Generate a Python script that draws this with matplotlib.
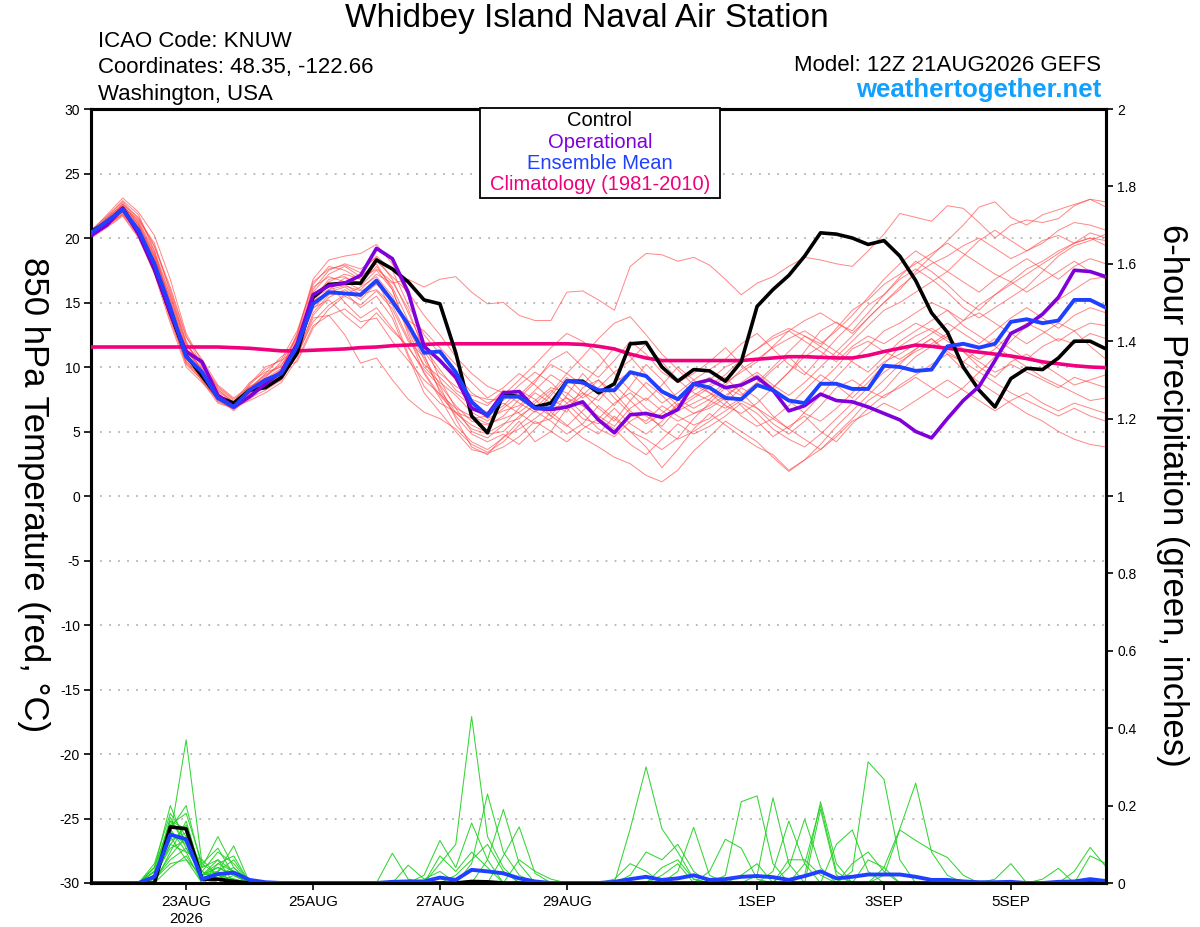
import numpy as np
import matplotlib
matplotlib.use("Agg")
import matplotlib.pyplot as plt
from matplotlib.patches import Rectangle

plt.rcParams['font.family'] = ['Liberation Sans', 'DejaVu Sans']

# ---------------- data ----------------
n_steps = 65                      # 6-hourly from 12Z 21AUG2026 (384 h)
step_days = 0.25

date_tick_days = [1.5, 3.5, 5.5, 7.5, 10.5, 12.5, 14.5]
date_tick_labels = ["23AUG\n2026", "25AUG", "27AUG", "29AUG", "1SEP", "3SEP", "5SEP"]
temp_ticks = [-30, -25, -20, -15, -10, -5, 0, 5, 10, 15, 20, 25, 30]
precip_ticks = [0, 0.2, 0.4, 0.6, 0.8, 1.0, 1.2, 1.4, 1.6, 1.8, 2.0]
precip_tick_labels = ["0", "0.2", "0.4", "0.6", "0.8", "1", "1.2", "1.4", "1.6", "1.8", "2"]

control_t = [20.5, 21.2, 22.3, 20.4, 17.6, 14.2, 10.9, 9.3, 7.7, 7.2, 8.2, 8.4, 9.2,
             11.1, 15.4, 16.4, 16.5, 16.5, 18.3, 17.6, 16.6, 15.2, 14.9, 11.1, 6.2, 4.9,
             7.9, 7.7, 6.9, 7.2, 8.9, 8.9, 8.0, 8.7, 11.8, 11.9, 10.0, 8.9, 9.8,
             9.7, 8.9, 10.4, 14.7, 16.0, 17.1, 18.6, 20.4, 20.3, 20.0, 19.5, 19.8, 18.6,
             16.7, 14.2, 12.7, 10.0, 8.2, 6.9, 9.1, 9.9, 9.8, 10.7, 12.0, 12.0, 11.4]

operational_t = [20.2, 21.0, 22.3, 20.3, 17.6, 14.2, 11.2, 10.4, 7.8, 6.9, 7.7, 8.7, 9.6,
                 11.8, 15.6, 16.3, 16.5, 17.1, 19.2, 18.4, 15.8, 11.6, 10.5, 9.2, 6.8, 6.3,
                 8.0, 8.1, 6.8, 6.7, 6.9, 7.3, 5.9, 4.9, 6.3, 6.4, 6.1, 6.7, 8.7,
                 9.0, 8.4, 8.6, 9.2, 8.2, 6.6, 7.0, 7.9, 7.4, 7.3, 6.9, 6.4, 5.9,
                 5.0, 4.5, 6.0, 7.4, 8.5, 10.5, 12.6, 13.2, 14.1, 15.4, 17.5, 17.4, 17.0]

ens_mean_t = [20.4, 21.3, 22.2, 20.6, 18.0, 14.6, 10.8, 9.6, 7.6, 6.9, 8.2, 9.0, 9.5,
              11.6, 14.9, 15.8, 15.7, 15.6, 16.7, 15.1, 13.3, 11.1, 11.2, 9.6, 7.3, 6.2,
              7.7, 7.7, 6.8, 6.8, 8.9, 8.8, 8.2, 8.2, 9.6, 9.3, 8.1, 7.5, 8.7,
              8.4, 7.6, 7.5, 8.6, 8.2, 7.4, 7.2, 8.7, 8.7, 8.3, 8.3, 10.1, 10.0,
              9.7, 9.8, 11.6, 11.8, 11.5, 11.8, 13.5, 13.7, 13.4, 13.6, 15.2, 15.2, 14.6]

climatology_t = [11.55, 11.55, 11.55, 11.55, 11.55, 11.55, 11.55, 11.55, 11.55, 11.5, 11.45, 11.35, 11.25,
                 11.25, 11.3, 11.35, 11.4, 11.5, 11.55, 11.65, 11.7, 11.75, 11.8, 11.8, 11.8, 11.8,
                 11.8, 11.8, 11.8, 11.8, 11.8, 11.75, 11.6, 11.4, 11.0, 10.7, 10.5, 10.5, 10.5,
                 10.5, 10.5, 10.5, 10.6, 10.7, 10.8, 10.8, 10.75, 10.7, 10.7, 10.9, 11.2, 11.45,
                 11.7, 11.6, 11.45, 11.3, 11.15, 11.0, 10.85, 10.65, 10.4, 10.25, 10.1, 10.0, 9.95]

members_t = [
    [20.3, 21.5, 22.6, 21.0, 18.6, 15.2, 11.5, 9.8, 7.9, 7.0, 8.0, 8.8, 9.6,
     12.0, 16.0, 17.5, 18.0, 17.6, 18.5, 16.8, 14.2, 11.5, 9.8, 8.2, 7.5, 7.0,
     8.2, 7.6, 8.8, 10.5, 11.2, 10.0, 9.2, 10.5, 12.0, 11.0, 9.6, 8.8, 9.5,
     10.4, 11.5, 10.2, 9.0, 8.4, 9.6, 11.2, 12.8, 13.5, 12.6, 13.8, 15.0, 16.2,
     17.2, 18.0, 18.6, 19.4, 20.0, 19.2, 18.4, 19.0, 19.8, 20.2, 19.6, 20.0, 19.8],
    [20.5, 21.8, 23.1, 22.0, 20.2, 16.8, 12.6, 10.4, 8.3, 7.2, 7.6, 8.2, 9.0,
     11.2, 15.2, 16.8, 17.0, 16.3, 17.5, 16.0, 12.5, 9.5, 7.6, 5.5, 4.2, 3.6,
     4.5, 5.8, 4.2, 5.0, 6.8, 5.5, 4.8, 6.2, 5.0, 3.8, 2.2, 3.6, 5.2,
     6.4, 5.5, 4.6, 3.8, 3.2, 2.0, 2.8, 3.6, 4.8, 6.0, 7.4, 8.2, 9.6,
     10.8, 11.6, 12.4, 11.2, 10.0, 9.2, 10.4, 11.0, 10.2, 9.4, 8.6, 9.0, 9.4],
    [20.1, 21.0, 22.0, 20.2, 17.4, 13.8, 10.2, 9.0, 7.4, 6.7, 7.5, 8.6, 9.8,
     12.5, 16.8, 18.3, 18.6, 18.8, 19.5, 18.0, 15.5, 12.0, 9.0, 6.8, 5.0, 4.5,
     5.5, 6.8, 8.0, 7.2, 6.5, 8.4, 9.0, 7.6, 6.4, 5.8, 7.0, 6.2, 5.5,
     6.0, 7.2, 8.4, 7.6, 6.2, 5.2, 6.5, 7.8, 9.2, 10.5, 11.6, 12.8, 13.4,
     14.2, 15.0, 14.4, 13.6, 14.8, 15.6, 16.4, 17.2, 18.0, 18.8, 19.6, 20.4, 20.0],
    [20.6, 21.3, 22.4, 21.4, 19.6, 15.8, 12.0, 9.5, 7.8, 7.1, 8.4, 9.4, 10.2,
     11.5, 14.5, 15.8, 16.2, 15.4, 16.8, 14.2, 11.0, 8.5, 7.2, 6.5, 6.0, 6.2,
     7.0, 8.2, 7.5, 6.2, 7.8, 9.5, 8.2, 7.0, 8.5, 10.2, 9.0, 7.5, 6.8,
     7.5, 8.6, 9.8, 10.6, 11.5, 12.2, 12.8, 12.0, 11.2, 12.4, 13.8, 15.0, 16.0,
     17.4, 18.6, 19.8, 21.0, 22.4, 22.8, 21.6, 21.0, 21.8, 22.2, 22.6, 23.0, 22.8],
    [20.2, 21.1, 21.8, 20.5, 17.9, 14.0, 10.6, 9.4, 7.6, 6.6, 7.9, 8.9, 9.4,
     10.8, 13.8, 14.0, 12.5, 10.3, 10.7, 9.0, 7.5, 6.5, 6.0, 5.2, 4.0, 3.4,
     4.2, 5.5, 6.6, 5.8, 4.8, 5.6, 7.0, 6.0, 5.0, 4.4, 3.6, 4.5, 6.0,
     7.2, 8.4, 7.0, 5.8, 4.6, 5.4, 6.2, 5.0, 4.2, 5.6, 6.8, 7.8, 8.4,
     9.2, 8.4, 7.6, 8.4, 9.6, 10.8, 12.0, 13.2, 14.0, 15.2, 16.0, 16.8, 17.0],
    [20.4, 21.6, 22.9, 21.8, 19.0, 14.8, 11.0, 8.9, 7.2, 6.8, 8.6, 9.8, 10.6,
     12.8, 16.4, 17.8, 17.5, 16.8, 18.2, 17.0, 15.8, 14.0, 12.5, 10.8, 9.5, 8.5,
     8.0, 7.2, 6.5, 7.8, 9.2, 8.0, 7.4, 8.8, 9.6, 8.4, 7.2, 8.0, 9.0,
     9.8, 10.6, 11.8, 12.6, 11.4, 10.2, 9.4, 10.8, 12.2, 13.4, 14.8, 15.6, 16.8,
     17.6, 16.8, 15.8, 14.6, 13.8, 14.6, 15.4, 16.2, 17.4, 18.6, 19.4, 19.8, 20.3],
    [20.0, 20.8, 21.7, 20.0, 17.2, 13.4, 10.0, 8.8, 7.5, 7.3, 8.8, 9.6, 10.0,
     10.4, 13.0, 14.5, 15.5, 14.8, 15.9, 14.5, 12.0, 10.8, 8.6, 7.0, 5.8, 5.5,
     6.2, 7.5, 6.8, 8.0, 9.5, 10.8, 12.2, 13.4, 13.9, 12.5, 11.0, 9.8, 8.6,
     8.0, 7.4, 6.2, 5.4, 6.0, 7.0, 8.2, 9.4, 8.6, 7.6, 8.8, 10.2, 11.6,
     12.4, 13.0, 12.2, 11.4, 10.6, 11.4, 12.6, 13.4, 12.8, 12.0, 12.8, 13.4, 13.2],
    [20.5, 21.4, 22.2, 20.8, 18.2, 14.6, 11.2, 9.9, 8.0, 7.0, 7.8, 8.4, 9.2,
     11.0, 14.0, 15.4, 16.0, 15.2, 16.5, 15.0, 13.5, 11.0, 8.0, 6.2, 4.8, 4.2,
     4.8, 4.0, 5.2, 6.5, 5.5, 4.5, 3.8, 3.0, 2.5, 1.6, 1.1, 2.0, 3.5,
     4.6, 5.8, 5.0, 4.2, 3.0, 1.9, 2.8, 4.0, 5.4, 6.6, 7.8, 9.0, 10.2,
     11.4, 12.2, 11.0, 9.8, 8.8, 8.0, 7.2, 6.4, 5.8, 5.0, 4.4, 4.0, 3.8],
    [20.3, 21.2, 22.5, 21.2, 18.8, 15.5, 11.8, 10.2, 8.4, 7.4, 8.2, 8.8, 9.5,
     12.2, 15.8, 17.2, 17.8, 17.0, 18.0, 16.0, 12.8, 10.0, 8.8, 7.8, 6.5, 5.8,
     6.8, 7.8, 9.0, 10.2, 9.5, 8.6, 10.0, 11.5, 10.8, 9.4, 8.2, 7.0, 7.8,
     8.6, 9.4, 10.6, 11.4, 12.2, 12.8, 13.6, 14.2, 13.4, 12.8, 14.2, 15.6, 17.0,
     18.2, 17.4, 16.4, 15.2, 14.4, 15.6, 16.6, 17.6, 18.2, 19.0, 19.6, 20.0, 19.4],
    [20.6, 21.7, 22.8, 21.5, 19.3, 16.0, 12.3, 10.6, 8.6, 7.6, 8.5, 9.1, 9.9,
     11.8, 15.0, 16.5, 15.0, 13.8, 14.6, 13.0, 11.5, 9.8, 8.5, 6.0, 3.8, 3.2,
     4.6, 5.2, 6.0, 7.0, 7.6, 6.4, 5.2, 4.6, 5.8, 6.5, 5.2, 4.4, 5.0,
     5.8, 6.6, 7.4, 6.8, 5.6, 4.8, 5.8, 7.0, 8.4, 9.0, 8.2, 7.6, 8.6,
     9.4, 10.2, 11.0, 10.4, 9.6, 8.8, 8.0, 7.4, 6.8, 6.2, 6.8, 6.2, 5.8],
    [20.2, 20.9, 21.9, 20.4, 17.6, 13.6, 10.4, 9.2, 7.7, 6.9, 7.4, 8.0, 8.8,
     10.6, 13.2, 14.0, 14.5, 13.5, 13.8, 12.0, 10.5, 9.0, 7.9, 6.8, 6.2, 5.6,
     6.0, 6.5, 7.4, 8.4, 8.0, 7.0, 6.2, 5.4, 6.8, 7.6, 6.6, 5.8, 6.4,
     7.0, 7.8, 8.6, 9.4, 8.4, 7.4, 6.4, 5.8, 6.8, 8.0, 9.2, 10.4, 11.0,
     11.8, 12.6, 13.4, 12.6, 11.8, 12.8, 13.8, 14.6, 13.8, 13.0, 14.0, 14.6, 14.2],
    [20.4, 21.3, 22.3, 20.9, 18.4, 14.9, 11.3, 9.6, 7.7, 7.0, 8.1, 9.2, 10.4,
     12.4, 16.2, 17.0, 16.6, 16.0, 17.2, 16.5, 16.8, 16.2, 16.8, 17.0, 15.8, 14.9,
     15.0, 14.0, 13.6, 13.6, 15.8, 15.9, 15.2, 14.4, 17.8, 18.8, 18.7, 18.2, 18.5,
     17.9, 16.8, 15.6, 16.5, 17.0, 17.8, 18.5, 18.3, 18.0, 17.8, 19.0, 20.3, 21.9,
     21.6, 21.3, 22.5, 22.3, 21.2, 20.0, 21.0, 21.4, 21.2, 21.5, 22.5, 23.0, 22.4],
    [20.1, 21.1, 22.1, 20.6, 18.1, 14.3, 10.8, 9.3, 7.3, 6.8, 8.3, 9.5, 10.8,
     11.6, 15.5, 16.2, 16.4, 15.6, 16.0, 14.8, 12.2, 10.2, 9.2, 8.0, 7.0, 6.5,
     7.2, 6.4, 5.6, 6.0, 7.2, 8.0, 6.8, 5.8, 7.4, 8.8, 7.8, 6.6, 7.2,
     7.8, 8.8, 9.6, 10.4, 11.6, 12.8, 12.0, 11.2, 10.4, 11.6, 12.4, 11.8, 12.6,
     13.4, 12.8, 12.0, 11.2, 10.4, 9.6, 10.2, 9.6, 9.0, 8.4, 9.2, 8.8, 8.4],
    [20.5, 21.5, 22.7, 21.3, 19.0, 15.6, 11.9, 10.0, 8.1, 7.2, 8.0, 9.0, 9.8,
     12.6, 16.6, 17.6, 17.9, 17.3, 18.6, 17.5, 14.8, 12.5, 11.0, 9.5, 8.0, 7.2,
     7.8, 9.0, 10.2, 11.5, 12.6, 12.0, 11.0, 9.5, 8.2, 7.4, 8.6, 10.0, 9.0,
     8.0, 7.0, 6.4, 7.2, 8.4, 9.6, 10.8, 11.6, 13.0, 14.4, 15.2, 16.4, 17.2,
     18.0, 18.8, 19.6, 18.8, 18.0, 17.2, 16.6, 15.8, 16.6, 17.4, 18.2, 17.4, 16.8],
    [20.3, 21.2, 22.3, 20.7, 18.3, 14.4, 10.9, 9.5, 7.6, 6.9, 7.7, 8.6, 9.3,
     11.0, 13.5, 14.8, 15.6, 16.2, 17.0, 15.5, 13.0, 10.6, 8.2, 6.5, 5.2, 4.8,
     5.0, 6.2, 7.0, 6.2, 5.4, 6.6, 7.8, 8.6, 7.4, 6.2, 5.4, 6.8, 7.6,
     8.4, 9.2, 8.0, 6.8, 6.0, 5.2, 4.4, 3.6, 4.6, 5.8, 6.4, 7.2, 6.6,
     7.4, 8.2, 9.0, 8.2, 7.4, 6.6, 7.4, 8.0, 7.2, 6.6, 7.2, 6.8, 6.4],
    [20.4, 21.4, 22.6, 21.6, 19.4, 16.2, 12.4, 10.1, 8.2, 7.3, 8.3, 9.3, 10.1,
     12.3, 15.4, 16.0, 16.9, 16.5, 17.8, 16.2, 13.6, 12.8, 11.5, 10.2, 8.8, 7.6,
     8.4, 9.5, 8.6, 7.5, 6.8, 7.8, 9.0, 8.0, 6.6, 5.6, 6.4, 7.4, 8.2,
     9.0, 10.0, 10.6, 11.4, 12.4, 13.0, 12.4, 11.8, 12.8, 14.0, 15.4, 16.8, 18.0,
     19.0, 18.2, 17.4, 18.6, 19.8, 20.6, 19.8, 19.0, 19.6, 20.6, 21.2, 21.0, 20.6],
    [20.2, 21.0, 22.0, 20.3, 17.7, 14.1, 10.5, 9.1, 7.4, 7.0, 8.7, 10.0, 10.5,
     11.4, 14.8, 16.0, 16.3, 15.9, 16.4, 15.2, 13.0, 11.8, 10.5, 9.0, 7.0, 6.0,
     6.6, 7.0, 8.2, 9.4, 8.6, 7.6, 8.4, 9.6, 10.5, 11.8, 10.4, 9.0, 8.0,
     7.4, 6.8, 7.6, 8.6, 9.8, 10.8, 9.6, 8.8, 10.0, 11.4, 12.0, 11.2, 10.6,
     11.4, 12.2, 11.2, 10.4, 11.4, 12.2, 11.4, 10.6, 11.6, 12.2, 11.8, 12.6, 12.2],
    [20.6, 21.6, 22.5, 21.1, 18.7, 15.0, 11.4, 9.7, 7.8, 7.1, 7.9, 8.5, 9.0,
     10.9, 14.2, 15.6, 15.8, 14.6, 15.5, 13.8, 10.8, 8.0, 6.5, 5.0, 3.6, 3.3,
     3.8, 4.6, 5.8, 5.0, 4.2, 5.2, 6.0, 5.2, 4.0, 3.2, 4.4, 5.6, 4.8,
     5.4, 6.2, 7.2, 6.4, 5.2, 4.4, 3.8, 4.8, 6.0, 7.2, 8.4, 9.6, 10.4,
     11.2, 11.8, 12.6, 13.6, 14.2, 13.4, 12.6, 11.8, 12.6, 13.4, 12.8, 11.6, 10.6],
    [20.3, 21.3, 22.4, 21.0, 18.5, 15.3, 11.7, 10.3, 8.5, 7.5, 8.4, 9.0, 9.7,
     12.0, 15.6, 16.6, 17.2, 16.8, 17.6, 16.6, 14.5, 11.2, 9.5, 8.5, 7.8, 7.5,
     7.4, 8.6, 9.6, 8.8, 7.6, 7.0, 6.0, 7.2, 8.0, 6.8, 6.0, 7.0, 8.4,
     9.2, 8.4, 7.8, 8.8, 10.0, 11.2, 12.4, 11.6, 10.8, 12.0, 13.2, 14.4, 15.0,
     15.8, 16.6, 17.4, 16.6, 15.8, 16.8, 17.6, 18.4, 17.6, 16.8, 17.8, 18.4, 18.0],
    [20.0, 20.9, 21.8, 20.1, 17.5, 13.9, 10.3, 9.0, 7.5, 6.8, 7.6, 8.7, 9.6,
     11.3, 14.6, 15.2, 14.0, 13.0, 14.2, 12.8, 11.6, 9.6, 7.8, 6.4, 5.5, 4.9,
     5.6, 6.0, 7.2, 8.2, 7.2, 6.0, 5.6, 6.8, 5.6, 4.8, 5.8, 7.2, 6.4,
     6.8, 7.6, 8.8, 9.6, 8.6, 7.8, 8.8, 10.0, 11.2, 10.4, 9.6, 10.8, 12.0,
     12.8, 13.6, 14.4, 13.2, 12.4, 11.6, 10.8, 10.0, 9.2, 8.6, 8.0, 7.4, 7.6],
]

# 6-hour precipitation (inches): {step index: amount}, zero elsewhere
control_p = {5: 0.145, 6: 0.14, 7: 0.01, 8: 0.01, 9: 0.004, 24: 0.004, 25: 0.003}
ens_mean_p = {4: 0.016, 5: 0.125, 6: 0.113, 7: 0.01, 8: 0.023, 9: 0.027, 10: 0.008, 11: 0.002,
              19: 0.003, 20: 0.004, 21: 0.004, 22: 0.014, 23: 0.008, 24: 0.034, 25: 0.03, 26: 0.025,
              27: 0.012, 28: 0.004, 33: 0.003, 34: 0.01, 35: 0.016, 36: 0.008, 37: 0.012, 38: 0.02,
              39: 0.008, 40: 0.01, 41: 0.016, 42: 0.018, 43: 0.015, 44: 0.008, 45: 0.018, 46: 0.03,
              47: 0.012, 48: 0.016, 49: 0.022, 50: 0.022, 51: 0.022, 52: 0.016, 53: 0.008, 54: 0.008,
              55: 0.004, 56: 0.002, 57: 0.002, 58: 0.003, 61: 0.003, 62: 0.004, 63: 0.01, 64: 0.005}
members_p = [
    {4: 0.03, 5: 0.12, 6: 0.37, 7: 0.05, 8: 0.02, 22: 0.05, 23: 0.1, 24: 0.43, 25: 0.12, 26: 0.04,
     34: 0.14, 35: 0.30, 36: 0.14, 37: 0.08, 38: 0.01},
    {4: 0.04, 5: 0.20, 6: 0.10, 7: 0.02, 8: 0.06, 9: 0.03, 19: 0.077, 20: 0.01,
     37: 0.03, 38: 0.144, 39: 0.02},
    {4: 0.02, 5: 0.14, 6: 0.20, 7: 0.04, 8: 0.12, 9: 0.04, 20: 0.046, 21: 0.01, 22: 0.03,
     39: 0.03, 40: 0.113, 41: 0.09, 42: 0.01},
    {4: 0.05, 5: 0.18, 6: 0.12, 7: 0.01, 8: 0.03, 9: 0.096, 21: 0.02, 22: 0.11, 23: 0.04, 24: 0.155,
     25: 0.06, 40: 0.02, 41: 0.21, 42: 0.225, 43: 0.05},
    {4: 0.01, 5: 0.10, 6: 0.08, 7: 0.06, 8: 0.02, 9: 0.01, 24: 0.05, 25: 0.23, 26: 0.08, 27: 0.02,
     42: 0.02, 43: 0.22, 44: 0.05},
    {4: 0.02, 5: 0.16, 6: 0.14, 7: 0.03, 8: 0.08, 9: 0.05, 25: 0.06, 26: 0.19, 27: 0.05,
     43: 0.03, 44: 0.16, 45: 0.05},
    {5: 0.08, 6: 0.16, 7: 0.02, 8: 0.04, 9: 0.02, 26: 0.07, 27: 0.145, 28: 0.025,
     44: 0.04, 45: 0.165, 46: 0.04},
    {4: 0.03, 5: 0.12, 6: 0.06, 8: 0.05, 9: 0.07, 22: 0.07, 23: 0.03, 24: 0.08, 25: 0.04,
     45: 0.02, 46: 0.21, 47: 0.05},
    {4: 0.02, 5: 0.09, 6: 0.11, 7: 0.03, 8: 0.01, 9: 0.03, 23: 0.02, 24: 0.06, 25: 0.1, 26: 0.03,
     46: 0.19, 47: 0.02},
    {4: 0.04, 5: 0.15, 6: 0.18, 7: 0.05, 8: 0.09, 9: 0.02, 27: 0.06, 28: 0.03, 29: 0.01,
     45: 0.05, 46: 0.2, 47: 0.03},
    {4: 0.01, 5: 0.06, 6: 0.09, 7: 0.02, 9: 0.01, 33: 0.01, 34: 0.05, 35: 0.03,
     47: 0.1, 48: 0.137, 49: 0.03},
    {4: 0.03, 5: 0.13, 6: 0.10, 7: 0.01, 8: 0.03, 9: 0.06, 48: 0.03, 49: 0.313, 50: 0.268, 51: 0.06},
    {4: 0.02, 5: 0.11, 6: 0.13, 7: 0.04, 8: 0.06, 50: 0.04, 51: 0.14, 52: 0.258, 53: 0.08, 54: 0.02},
    {5: 0.04, 6: 0.07, 7: 0.01, 8: 0.02, 9: 0.01, 50: 0.02, 51: 0.137, 52: 0.11, 53: 0.085,
     54: 0.066, 55: 0.02},
    {4: 0.02, 5: 0.17, 6: 0.09, 7: 0.02, 8: 0.04, 9: 0.02, 49: 0.06, 50: 0.04, 57: 0.01, 58: 0.05},
    {4: 0.01, 5: 0.07, 6: 0.12, 7: 0.03, 48: 0.05, 49: 0.08, 50: 0.03, 60: 0.01, 61: 0.038},
    {4: 0.03, 5: 0.14, 6: 0.08, 8: 0.02, 9: 0.04, 44: 0.06, 45: 0.06, 46: 0.02, 62: 0.03, 63: 0.092,
     64: 0.042},
    {4: 0.02, 5: 0.10, 6: 0.15, 7: 0.02, 8: 0.05, 9: 0.03, 36: 0.02, 37: 0.05, 63: 0.07, 64: 0.05},
    {4: 0.04, 5: 0.16, 6: 0.11, 7: 0.01, 9: 0.02, 34: 0.02, 35: 0.08, 36: 0.06, 37: 0.1, 38: 0.03},
    {4: 0.01, 5: 0.05, 6: 0.06, 7: 0.02, 8: 0.03, 36: 0.04, 37: 0.06, 38: 0.01, 41: 0.02, 42: 0.05},
]

# ---------------- figure ----------------
W, H = 1200, 927
fig = plt.figure(figsize=(W / 100, H / 100), dpi=100)
x0, x1, ytop, ybot = 91, 1106, 109, 883
ax = fig.add_axes([x0 / W, 1 - ybot / H, (x1 - x0) / W, (ybot - ytop) / H])
ax2 = ax.twinx()

days = np.arange(n_steps) * step_days


def dense(d):
    arr = np.zeros(n_steps)
    for k, v in d.items():
        arr[k] = v
    return arr


# gridlines
for yv in temp_ticks[1:-1]:
    ax.axhline(yv, color='#b4b4b4', lw=1.3, ls=(0, (1.0, 4.0)), zorder=0)

for m in members_t:
    ax.plot(days, m, color='#ff4646', lw=0.7, alpha=0.65, zorder=2)
for m in members_p:
    ax2.plot(days, dense(m), color='#1fd01f', lw=0.75, alpha=0.9, zorder=2)

ax.plot(days, climatology_t, color='#f0007c', lw=2.6, zorder=4)
ax.plot(days, control_t, color='black', lw=2.6, zorder=5)
ax.plot(days, operational_t, color='#8000dc', lw=2.6, zorder=6)
ax.plot(days, ens_mean_t, color='#2040ff', lw=2.8, zorder=7)

ax2.plot(days, dense(control_p), color='black', lw=2.6, zorder=5)
ax2.plot(days, dense(ens_mean_p), color='#2040ff', lw=2.8, zorder=6)

ax.set_zorder(2)
ax2.set_zorder(1)
ax.patch.set_visible(False)
ax2.patch.set_visible(False)

ax.set_xlim(0, (n_steps - 1) * step_days)
ax.set_ylim(-30, 30)
ax2.set_ylim(0, 2)

ax.set_yticks(temp_ticks)
ax.set_yticklabels([str(v) for v in temp_ticks])
ax2.set_yticks(precip_ticks)
ax2.set_yticklabels(precip_tick_labels)
ax.set_xticks(date_tick_days)
ax.set_xticklabels(date_tick_labels, linespacing=1.25)

for a in (ax, ax2):
    a.tick_params(direction='out', length=5, width=1.2, labelsize=10, colors='black', pad=3)
    for s in a.spines.values():
        s.set_linewidth(2.2)
ax.tick_params(axis='x', labelsize=11, pad=4)

# axis labels
fig.text(33 / W, 1 - 495 / H, "850 hPa Temperature (red, \u00b0C)", rotation=-90,
         ha='center', va='center', fontsize=25)
fig.text(1172 / W, 1 - 495 / H, "6-hour Precipitation (green, inches)", rotation=-90,
         ha='center', va='center', fontsize=25)

# header texts
fig.text(587 / W, 1 - 27 / H, "Whidbey Island Naval Air Station", ha='center', va='baseline', fontsize=24)
fig.text(98 / W, 1 - 47 / H, "ICAO Code: KNUW", ha='left', va='baseline', fontsize=16)
fig.text(98 / W, 1 - 73.5 / H, "Coordinates: 48.35, -122.66", ha='left', va='baseline', fontsize=16)
fig.text(98 / W, 1 - 100 / H, "Washington, USA", ha='left', va='baseline', fontsize=16)
fig.text(1101 / W, 1 - 71 / H, "Model: 12Z 21AUG2026 GEFS", ha='right', va='baseline', fontsize=16)
fig.text(1101 / W, 1 - 97 / H, "weathertogether.net", ha='right', va='baseline', fontsize=18.5,
         fontweight='bold', color='#12a0ff')

# legend box
fig.patches.append(Rectangle((480 / W, 1 - 198 / H), 240 / W, 90 / H, transform=fig.transFigure,
                             facecolor='white', edgecolor='black', lw=1.3, zorder=10))
leg_items = [("Control", 'black'), ("Operational", '#8000dc'), ("Ensemble Mean", '#2040ff'),
             ("Climatology (1981-2010)", '#f0007c')]
for i, (txt, col) in enumerate(leg_items):
    fig.text(600 / W, 1 - (121 + 21.3 * i) / H, txt, ha='center', va='center', fontsize=14.5,
             color=col, zorder=11)

fig.savefig("out.png", dpi=100)
